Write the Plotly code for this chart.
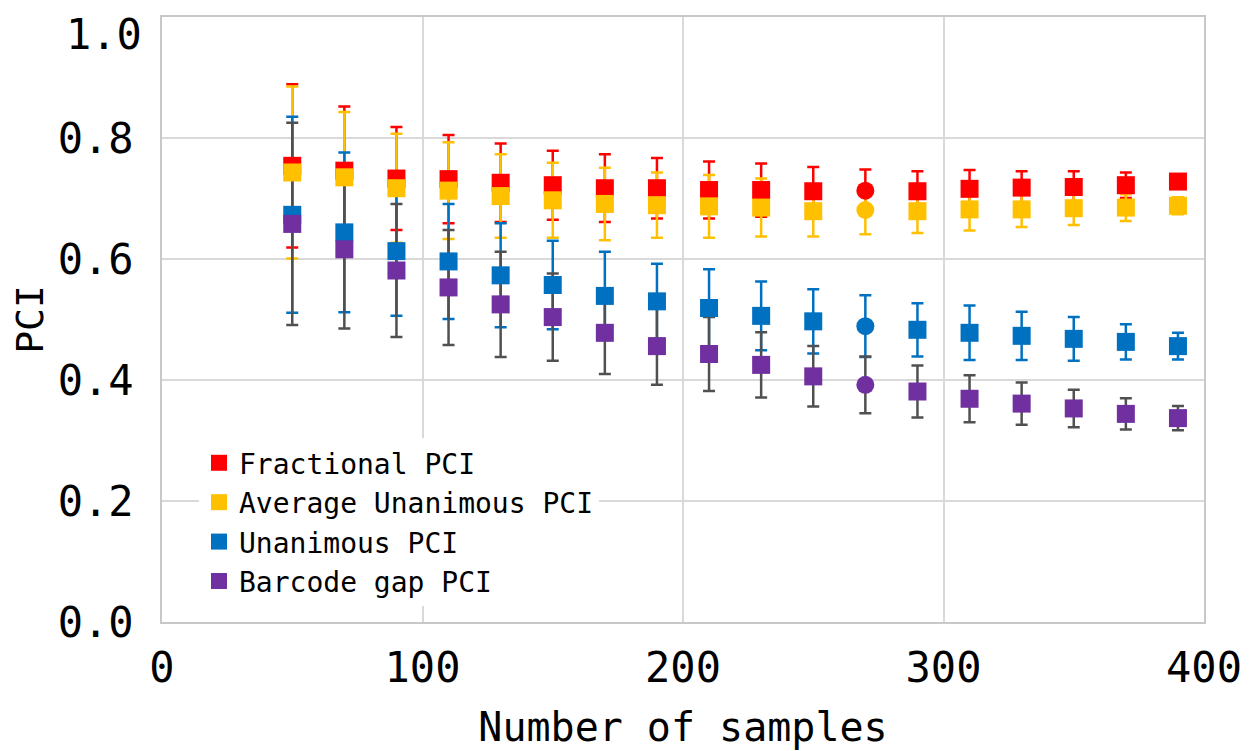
import plotly.graph_objects as go

samples = [50, 70, 90, 110, 130, 150, 170, 190, 210, 230, 250, 270, 290, 310, 330, 350, 370, 390]

fractional = [0.754, 0.746, 0.733, 0.732, 0.726, 0.722, 0.717, 0.717, 0.714, 0.714, 0.712, 0.713, 0.712, 0.716, 0.718, 0.719, 0.722, 0.728]
fractional_err = [0.135, 0.106, 0.085, 0.073, 0.065, 0.057, 0.056, 0.050, 0.047, 0.044, 0.040, 0.035, 0.033, 0.031, 0.027, 0.026, 0.021, 0.012]

avg_unanimous = [0.743, 0.735, 0.717, 0.713, 0.704, 0.697, 0.691, 0.689, 0.687, 0.685, 0.679, 0.681, 0.679, 0.682, 0.682, 0.684, 0.685, 0.688]
avg_unanimous_err = [0.142, 0.108, 0.090, 0.080, 0.069, 0.062, 0.060, 0.054, 0.052, 0.048, 0.042, 0.040, 0.036, 0.035, 0.029, 0.028, 0.022, 0.014]

unanimous = [0.673, 0.644, 0.613, 0.596, 0.573, 0.557, 0.539, 0.530, 0.519, 0.506, 0.497, 0.489, 0.483, 0.478, 0.473, 0.468, 0.463, 0.456]
unanimous_err = [0.162, 0.132, 0.107, 0.095, 0.086, 0.073, 0.073, 0.062, 0.064, 0.057, 0.053, 0.051, 0.044, 0.045, 0.040, 0.036, 0.029, 0.022]

barcode = [0.658, 0.616, 0.581, 0.553, 0.525, 0.504, 0.478, 0.456, 0.443, 0.425, 0.406, 0.392, 0.381, 0.369, 0.361, 0.353, 0.344, 0.337]
barcode_err = [0.167, 0.131, 0.110, 0.095, 0.087, 0.072, 0.068, 0.064, 0.061, 0.054, 0.050, 0.047, 0.043, 0.039, 0.035, 0.031, 0.026, 0.020]

x_ticks = [0, 100, 200, 300, 400]
y_ticks = [0.0, 0.2, 0.4, 0.6, 0.8, 1.0]
y_tick_labels = ["0.0", "0.2", "0.4", "0.6", "0.8", "1.0"]

names = ["Fractional PCI", "Average Unanimous PCI", "Unanimous PCI", "Barcode gap PCI"]
values = [fractional, avg_unanimous, unanimous, barcode]
errors = [fractional_err, avg_unanimous_err, unanimous_err, barcode_err]
colors = ["#FF0000", "#FFC000", "#0070C0", "#7030A0"]
err_colors = ["#FF0000", "#FFC000", "#0070C0", "#505050"]

symbols = ["circle" if s == 270 else "square" for s in samples]

FONT = "DejaVu Sans Mono"
TICK_SIZE = 42

fig = go.Figure()

# error bars first (drawn beneath all markers)
for v, e, ec in zip(values, errors, err_colors):
    fig.add_trace(go.Scatter(
        x=samples, y=v, mode="markers",
        marker=dict(color="rgba(0,0,0,0)", size=1),
        error_y=dict(type="data", array=e, visible=True, color=ec, thickness=2.5, width=6),
        showlegend=False, hoverinfo="skip",
    ))

for n, v, c in zip(names, values, colors):
    fig.add_trace(go.Scatter(
        x=samples, y=v, mode="markers", name=n,
        marker=dict(color=c, size=18, symbol=symbols, line=dict(width=0)),
    ))

# top y tick label placed just below the frame top so it stays inside the page
top_labels = [t for t, v in zip(y_tick_labels, y_ticks) if v == max(y_ticks)]
shown_ticktext = ["" if v == max(y_ticks) else t for t, v in zip(y_tick_labels, y_ticks)]

fig.add_annotation(
    xref="paper", yref="y", x=0, y=max(y_ticks), text=top_labels[0],
    showarrow=False, xanchor="right", yanchor="middle", xshift=-18, yshift=-17,
    font=dict(family=FONT, size=TICK_SIZE, color="black"),
)

fig.update_layout(
    width=1242, height=743,
    margin=dict(l=154, r=46, t=9, b=129, autoexpand=False),
    paper_bgcolor="white", plot_bgcolor="white",
    font=dict(family=FONT, color="black"),
    legend=dict(
        x=0.0355, y=0.304, xanchor="left", yanchor="top",
        bgcolor="white", font=dict(family=FONT, size=28, color="black"),
        itemsizing="trace", tracegroupgap=0,
    ),
    showlegend=True,
)

fig.update_xaxes(
    range=[0, 400], tickmode="array", tickvals=x_ticks,
    showgrid=True, gridcolor="#d9d9d9", gridwidth=1.5,
    showline=True, linecolor="#c8c8c8", linewidth=2, mirror=True,
    zeroline=False, ticks="", ticklabelstandoff=8, automargin=False,
    tickfont=dict(family=FONT, size=TICK_SIZE, color="black"),
    title=dict(text="Number of samples", font=dict(family=FONT, size=40, color="black"), standoff=22),
)
fig.update_yaxes(
    range=[0, 1.0], tickmode="array", tickvals=y_ticks, ticktext=shown_ticktext,
    showgrid=True, gridcolor="#d9d9d9", gridwidth=1.5,
    showline=True, linecolor="#c8c8c8", linewidth=2, mirror=True,
    zeroline=False, ticks="", ticklabelstandoff=18, automargin=False,
    tickfont=dict(family=FONT, size=TICK_SIZE, color="black"),
    title=dict(text="PCI", font=dict(family=FONT, size=38, color="black"), standoff=6),
)

fig.write_html("out.html")
